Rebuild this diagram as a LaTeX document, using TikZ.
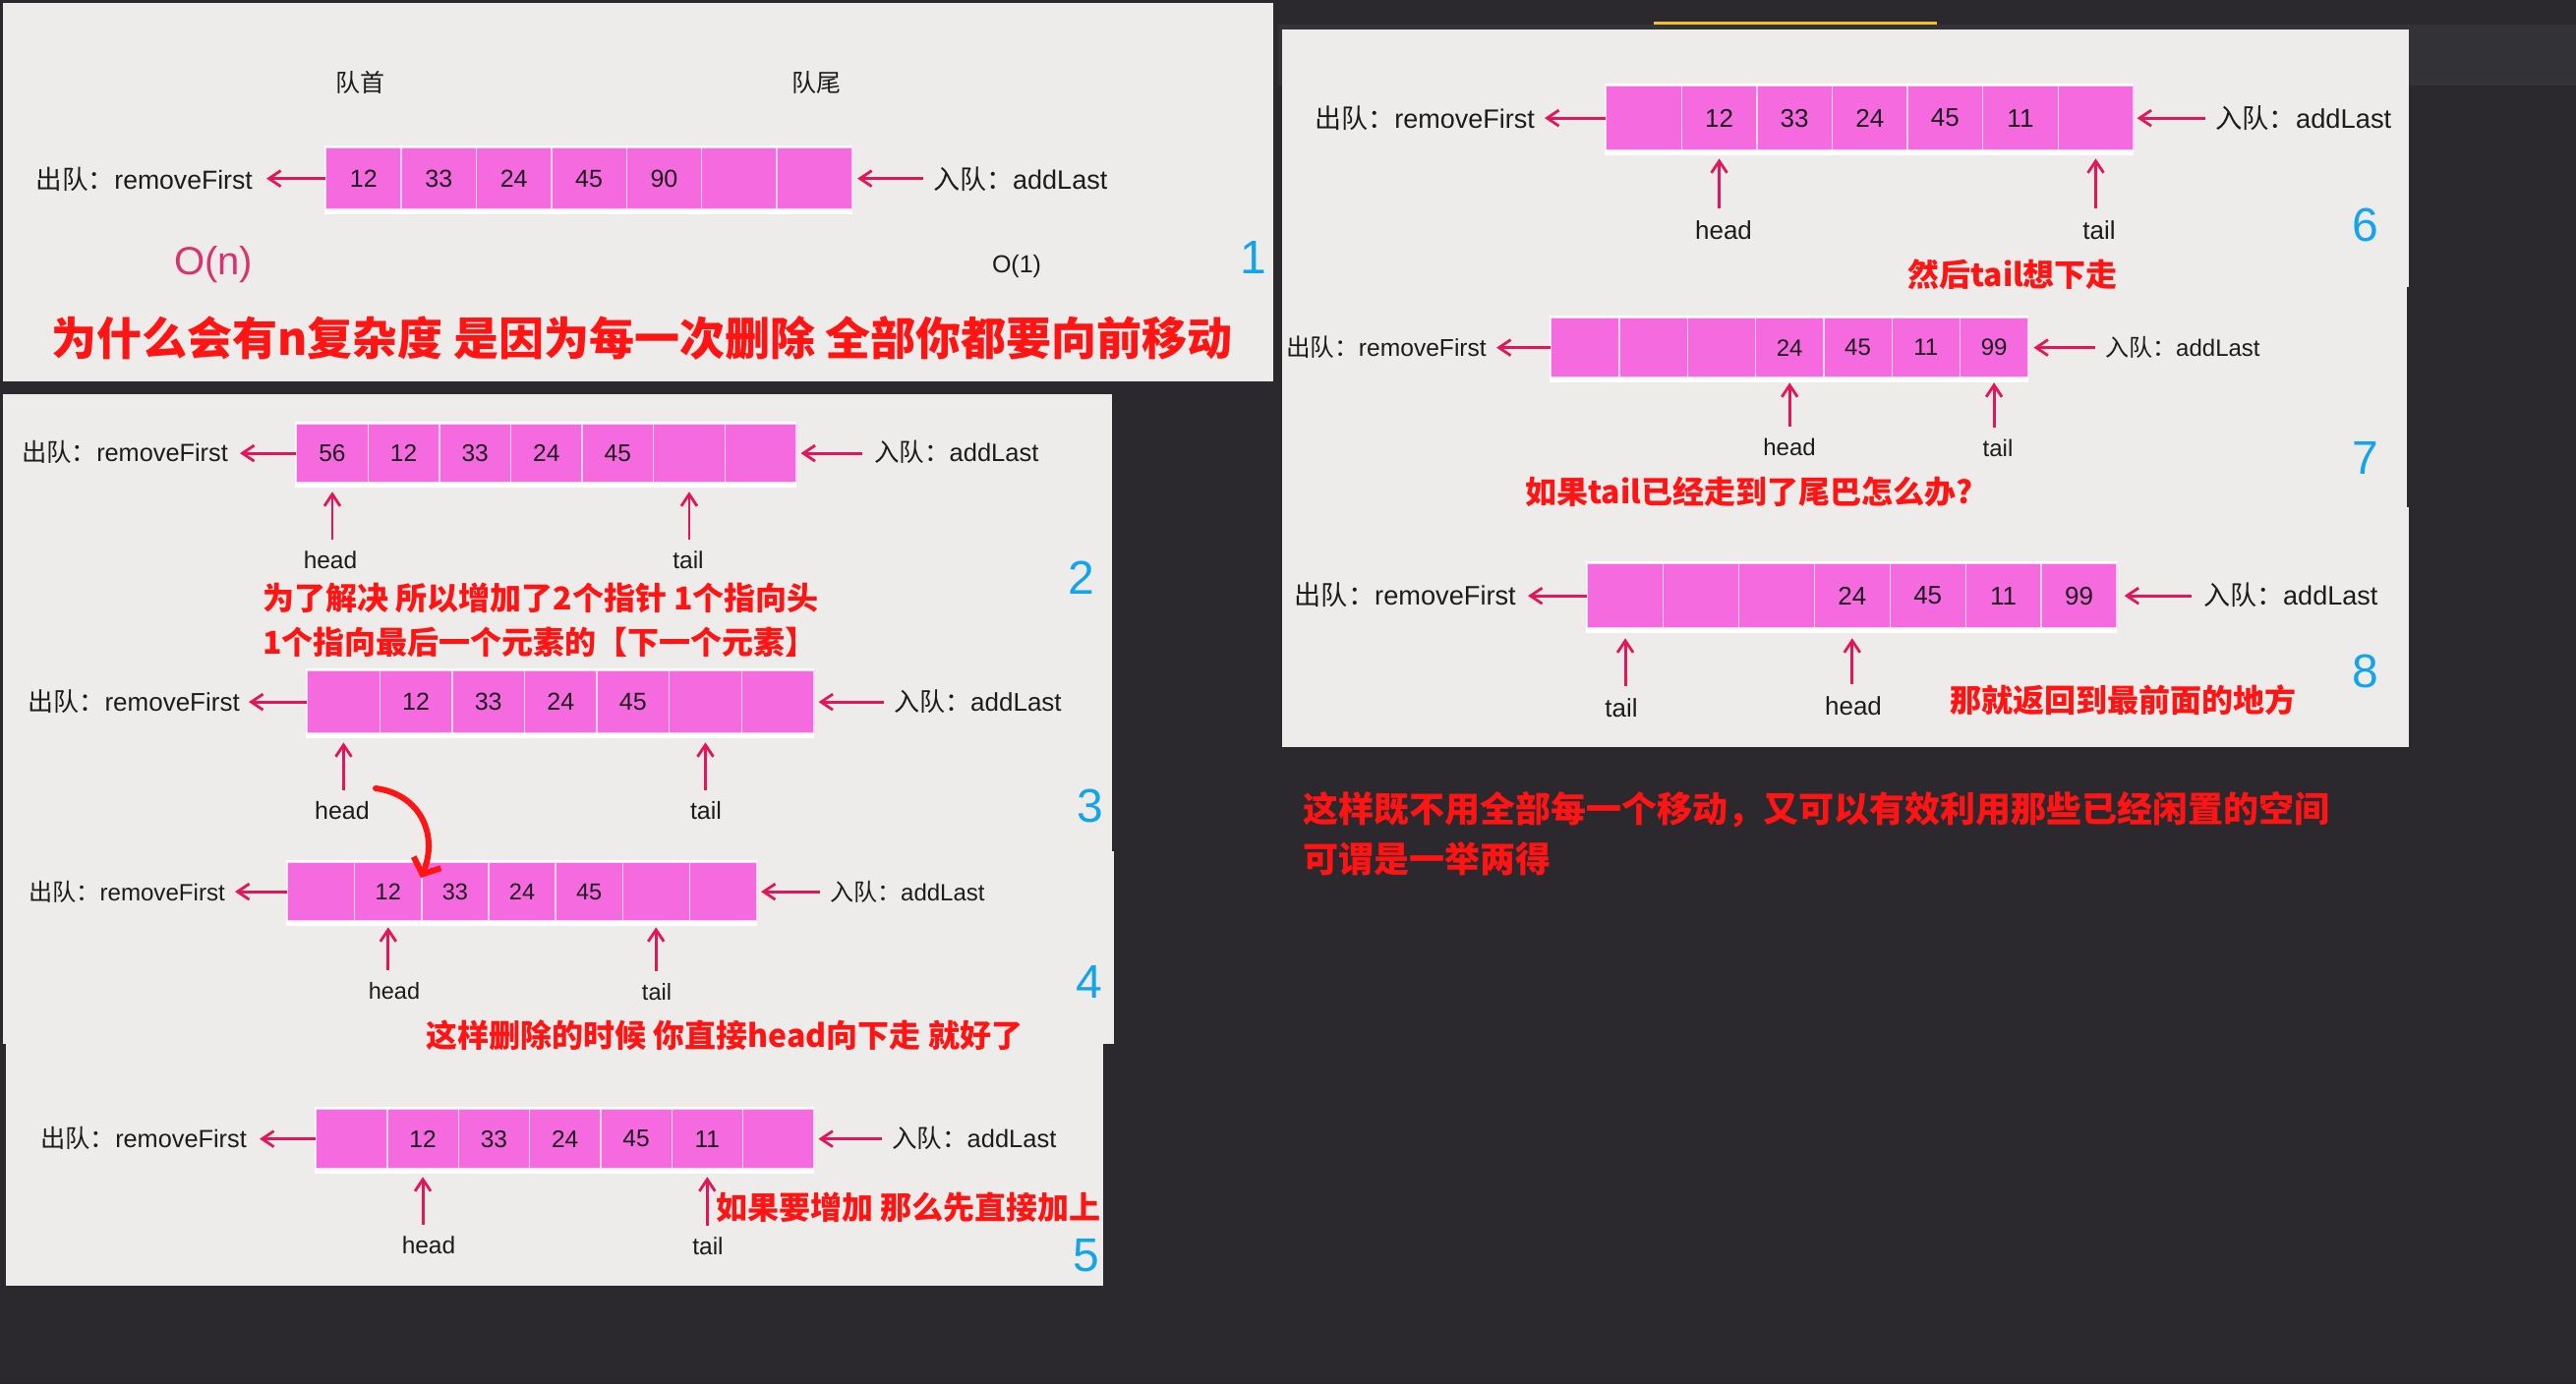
\documentclass[tikz,border=0pt]{standalone}
\usepackage{fontspec}
\setmainfont{Liberation Sans}
\newfontfamily\cjk{Noto Sans CJK SC}
\usetikzlibrary{arrows.meta}
\definecolor{bgdark}{HTML}{2B292E}
\definecolor{bgband}{HTML}{333237}
\definecolor{paper}{HTML}{EDECEA}
\definecolor{cellc}{HTML}{F66ADF}
\definecolor{cellline}{HTML}{FAD4F3}
\definecolor{arr}{HTML}{E2165A}
\definecolor{redt}{HTML}{FF1414}
\definecolor{bluen}{HTML}{14A4EA}
\definecolor{onc}{HTML}{D8336E}
\definecolor{txt}{HTML}{1C1C1C}
\definecolor{yel}{HTML}{F0C232}
\newcommand{\fz}[1]{\fontsize{#1}{#1}\selectfont}
\tikzset{
  cell/.style={draw=cellline, line width=1.3pt, fill=cellc, inner sep=0pt, text=txt},
  lbl/.style={inner sep=0pt, text=txt},
  qarrow/.style={draw=arr, line width=2.8pt, -{Straight Barb[length=12pt,width=16pt]}},
  redtxt/.style={inner sep=0pt, text=redt, font=\cjk\bfseries\fz{32}},
  bignum/.style={inner sep=0pt, text=bluen, font=\fz{48}},
  panel/.style={fill=paper},
  curvearrow/.style={draw=redt, line width=6pt, line cap=round, -{Straight Barb[length=13pt,width=30pt]}}
}
\newcommand{\qarr}[6]{%
  \fill[white] ({#2-1},{#3-2}) rectangle ({#2+7*#4+1},{#3+#5+6});
  \foreach \v [count=\i] in {#6}{%
    \node[cell, minimum width=#4pt, minimum height=#5pt, anchor=north west] (#1c\i) at ({#2+(\i-1)*#4},#3) {\v};
  }%
}
\begin{document}
\begin{tikzpicture}[x=1pt,y=-1pt]
\useasboundingbox (0,0) rectangle (2620,1408);
\fill[bgdark] (0,0) rectangle (2620,1408);
\fill[bgband] (1300,25) rectangle (2620,87);
\fill[yel] (1682,22) rectangle (1970,25);
% panels
\fill[panel] (3,3) rectangle (1295,388);
\fill[panel] (3,401) rectangle (1131,632);
\fill[panel] (3,632) rectangle (1131,866);
\fill[panel] (3,866) rectangle (1133,1062);
\fill[panel] (6,1062) rectangle (1122,1308);
\fill[panel] (1304,30) rectangle (2450,292);
\fill[panel] (1304,292) rectangle (2448,516);
\fill[panel] (1304,516) rectangle (2450,760);

% ---------- panel 1
\begin{scope}[every node/.append style={font=\fz{25}}]
\node[lbl, font=\cjk\fz{25}] (t1a) at (366,84) {队首};
\node[lbl, font=\cjk\fz{25}] (t1b) at (830,84) {队尾};
\qarr{p1}{331}{150}{76.4}{62}{12,33,24,45,90,{},{}}
\node[lbl, anchor=east, font=\fz{26.6}] (p1L) at (257,182) {{\cjk 出队：}removeFirst};
\node[lbl, anchor=west, font=\fz{27}] (p1R) at (949,182) {{\cjk 入队：}addLast};
\draw[qarrow, shorten >=14pt] (p1c1.west) -- (p1c1.west -| p1L.east);
\draw[qarrow, shorten <=10pt, shorten >=5pt] (p1c7.east -| p1R.west) -- (p1c7.east);
\node[lbl, text=onc, font=\fz{40}] (on) at (217,269) {O(n)};
\node[lbl, font=\fz{25}] (o1) at (1034,271) {O(1)};
\node[bignum] (n1) at (1275,262) {1};
\node[redtxt, font=\cjk\bfseries\fz{46}] (r1) at (653,344) {为什么会有n复杂度 是因为每一次删除 全部你都要向前移动};
\end{scope}

% ---------- panel 2
\begin{scope}[every node/.append style={font=\fz{24.5}}]
\qarr{p2}{301}{431}{72.6}{59}{56,12,33,24,45,{},{}}
\node[lbl, anchor=east, font=\fz{25.3}] (p2L) at (232,460) {{\cjk 出队：}removeFirst};
\node[lbl, anchor=west, font=\fz{25.5}] (p2R) at (889,460) {{\cjk 入队：}addLast};
\draw[qarrow, shorten >=12pt] (p2c1.west) -- (p2c1.west -| p2L.east);
\draw[qarrow, shorten <=12pt, shorten >=4pt] (p2c7.east -| p2R.west) -- (p2c7.east);
\node[lbl] (p2H) at (336,570) {head};
\node[lbl] (p2T) at (700,570) {tail};
\draw[qarrow, shorten <=12pt, shorten >=9pt] (p2c1.south |- p2H.north) -- (p2c1.south);
\draw[qarrow, shorten <=12pt, shorten >=9pt] (p2c6.south |- p2T.north) -- (p2c6.south);
\node[redtxt, anchor=west] (r2a) at (267,608) {为了解决 所以增加了2个指针 1个指向头};
\node[redtxt, anchor=west] (r2b) at (267,653) {1个指向最后一个元素的【下一个元素】};
\node[bignum] (n2) at (1100,588) {2};
\end{scope}

% ---------- panel 3
\begin{scope}[every node/.append style={font=\fz{25}}]
\qarr{p3}{312}{682}{73.6}{63}{{},12,33,24,45,{},{}}
\node[lbl, anchor=east, font=\fz{26}] (p3L) at (244,714) {{\cjk 出队：}removeFirst};
\node[lbl, anchor=west, font=\fz{26}] (p3R) at (909,714) {{\cjk 入队：}addLast};
\draw[qarrow, shorten >=9pt] (p3c1.west) -- (p3c1.west -| p3L.east);
\draw[qarrow, shorten <=10pt, shorten >=4pt] (p3c7.east -| p3R.west) -- (p3c7.east);
\node[lbl] (p3H) at (348,825) {head};
\node[lbl] (p3T) at (718,825) {tail};
\draw[qarrow, shorten <=12pt, shorten >=9pt] (p3c1.south |- p3H.north) -- (p3c1.south);
\draw[qarrow, shorten <=12pt, shorten >=9pt] (p3c6.south |- p3T.north) -- (p3c6.south);
\node[bignum] (n3) at (1109,820) {3};
\end{scope}

% ---------- panel 4
\begin{scope}[every node/.append style={font=\fz{23.5}}]
\qarr{p4}{292}{877}{68.1}{59}{{},12,33,24,45,{},{}}
\node[lbl, anchor=east, font=\fz{24.1}] (p4L) at (229,907) {{\cjk 出队：}removeFirst};
\node[lbl, anchor=west, font=\fz{24}] (p4R) at (844,907) {{\cjk 入队：}addLast};
\draw[qarrow, shorten >=10pt] (p4c1.west) -- (p4c1.west -| p4L.east);
\draw[qarrow, shorten <=10pt, shorten >=4pt] (p4c7.east -| p4R.west) -- (p4c7.east);
\node[lbl] (p4H) at (401,1008) {head};
\node[lbl] (p4T) at (668,1009) {tail};
\draw[qarrow, shorten <=12pt, shorten >=6pt] (p4c2.south |- p4H.north) -- (p4c2.south);
\draw[qarrow, shorten <=12pt, shorten >=6pt] (p4c6.south |- p4T.north) -- (p4c6.south);
\node[redtxt, anchor=west] (r4) at (433,1053) {这样删除的时候 你直接head向下走 就好了};
\node[bignum] (n4) at (1108,999) {4};
\end{scope}

% curved red arrow (panel 3 -> 4)
\coordinate (c3a) at (382,802);
\coordinate (c3b) at (428,893);
\draw[curvearrow] (c3a) .. controls (428,808) and (446,850) .. (c3b);

% ---------- panel 5
\begin{scope}[every node/.append style={font=\fz{24.5}}]
\qarr{p5}{321}{1128}{72.3}{60}{{},12,33,24,45,11,{}}
\node[lbl, anchor=east, font=\fz{25.3}] (p5L) at (251,1158) {{\cjk 出队：}removeFirst};
\node[lbl, anchor=west, font=\fz{25.5}] (p5R) at (907,1158) {{\cjk 入队：}addLast};
\draw[qarrow, shorten >=13pt] (p5c1.west) -- (p5c1.west -| p5L.east);
\draw[qarrow, shorten <=10pt, shorten >=4pt] (p5c7.east -| p5R.west) -- (p5c7.east);
\node[lbl] (p5H) at (436,1267) {head};
\node[lbl] (p5T) at (720,1268) {tail};
\draw[qarrow, shorten <=12pt, shorten >=8pt] (p5c2.south |- p5H.north) -- (p5c2.south);
\draw[qarrow, shorten <=12pt, shorten >=8pt] (p5c6.south |- p5T.north) -- (p5c6.south);
\begin{scope}
\clip (6,1062) rectangle (1122,1308);
\node[redtxt, anchor=west] (r5) at (728,1228) {如果要增加 那么先直接加上};
\end{scope}
\node[bignum] (n5) at (1105,1277) {5};
\end{scope}

% ---------- panel 6
\begin{scope}[every node/.append style={font=\fz{26}}]
\qarr{p6}{1633}{87}{76.6}{65}{{},12,33,24,45,11,{}}
\node[lbl, anchor=east, font=\fz{27}] (p6L) at (1561,120) {{\cjk 出队：}removeFirst};
\node[lbl, anchor=west, font=\fz{27.3}] (p6R) at (2253,120) {{\cjk 入队：}addLast};
\draw[qarrow, shorten >=10pt] (p6c1.west) -- (p6c1.west -| p6L.east);
\draw[qarrow, shorten <=10pt, shorten >=3pt] (p6c7.east -| p6R.west) -- (p6c7.east);
\node[lbl] (p6H) at (1753,234) {head};
\node[lbl] (p6T) at (2135,234) {tail};
\draw[qarrow, shorten <=12pt, shorten >=8pt] (p6c2.south |- p6H.north) -- (p6c2.south);
\draw[qarrow, shorten <=12pt, shorten >=8pt] (p6c7.south |- p6T.north) -- (p6c7.south);
\node[redtxt] (r6) at (2047,279) {然后tail想下走};
\node[bignum] (n6) at (2406,229) {6};
\end{scope}

% ---------- panel 7
\begin{scope}[every node/.append style={font=\fz{24}}]
\qarr{p7}{1577}{323}{69.3}{60}{{},{},{},24,45,11,99}
\node[lbl, anchor=east, font=\fz{24.6}] (p7L) at (1512,353) {{\cjk 出队：}removeFirst};
\node[lbl, anchor=west, font=\fz{24}] (p7R) at (2141,353) {{\cjk 入队：}addLast};
\draw[qarrow, shorten >=10pt] (p7c1.west) -- (p7c1.west -| p7L.east);
\draw[qarrow, shorten <=10pt, shorten >=5pt] (p7c7.east -| p7R.west) -- (p7c7.east);
\node[lbl] (p7H) at (1820,455) {head};
\node[lbl] (p7T) at (2032,456) {tail};
\draw[qarrow, shorten <=12pt, shorten >=5pt] (p7c4.south |- p7H.north) -- (p7c4.south);
\draw[qarrow, shorten <=12pt, shorten >=5pt] (p7c7.south |- p7T.north) -- (p7c7.south);
\node[redtxt, anchor=west] (r7) at (1551,500) {如果tail已经走到了尾巴怎么办?};
\node[bignum] (n7) at (2406,466) {7};
\end{scope}

% ---------- panel 8
\begin{scope}[every node/.append style={font=\fz{26}}]
\qarr{p8}{1614}{573}{76.9}{65}{{},{},{},24,45,11,99}
\node[lbl, anchor=east, font=\fz{27.2}] (p8L) at (1542,605) {{\cjk 出队：}removeFirst};
\node[lbl, anchor=west, font=\fz{27}] (p8R) at (2241,605) {{\cjk 入队：}addLast};
\draw[qarrow, shorten >=12pt] (p8c1.west) -- (p8c1.west -| p8L.east);
\draw[qarrow, shorten <=12pt, shorten >=7pt] (p8c7.east -| p8R.west) -- (p8c7.east);
\node[lbl] (p8T) at (1649,720) {tail};
\node[lbl] (p8H) at (1885,718) {head};
\draw[qarrow, shorten <=12pt, shorten >=10pt] (p8c1.south |- p8T.north) -- (p8c1.south);
\draw[qarrow, shorten <=12pt, shorten >=10pt] (p8c4.south |- p8H.north) -- (p8c4.south);
\node[redtxt, anchor=west] (r8) at (1983,712) {那就返回到最前面的地方};
\node[bignum] (n8) at (2406,683) {8};
\end{scope}

% ---------- bottom text
\node[redtxt, anchor=west, font=\cjk\bfseries\fz{36}] (b1) at (1325,824) {这样既不用全部每一个移动，又可以有效利用那些已经闲置的空间};
\node[redtxt, anchor=west, font=\cjk\bfseries\fz{36}] (b2) at (1325,874) {可谓是一举两得};
\end{tikzpicture}
\end{document}
